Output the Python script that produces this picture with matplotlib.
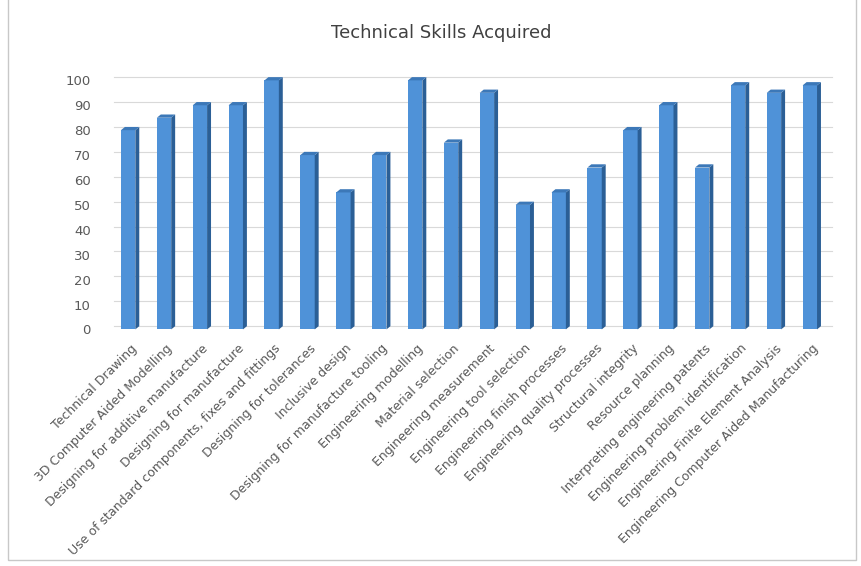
import numpy as np
import matplotlib
matplotlib.use("Agg")
import matplotlib.pyplot as plt
from matplotlib.patches import Polygon, Rectangle

skills = [
    "Technical Drawing",
    "3D Computer Aided Modelling",
    "Designing for additive manufacture",
    "Designing for manufacture",
    "Use of standard components, fixes and fittings",
    "Designing for tolerances",
    "Inclusive design",
    "Designing for manufacture tooling",
    "Engineering modelling",
    "Material selection",
    "Engineering measurement",
    "Engineering tool selection",
    "Engineering finish processes",
    "Engineering quality processes",
    "Structural integrity",
    "Resource planning",
    "Interpreting engineering patents",
    "Engineering problem identification",
    "Engineering Finite Element Analysis",
    "Engineering Computer Aided Manufacturing",
]
scores = [80, 85, 90, 90, 100, 70, 55, 70, 100, 75,
          95, 50, 55, 65, 80, 90, 65, 98, 95, 98]
yticks = list(range(0, 101, 10))

FRONT = "#4f92d8"
SIDE  = "#2b5f96"
TOP   = "#3c78b8"
TXT   = "#595959"

fig = plt.figure(figsize=(8.61, 5.66), dpi=100)
ax = fig.add_axes([0.128, 0.418, 0.838, 0.44])

x = np.arange(len(skills))
w = 0.40
dx, dy = 0.11, 1.3   # fake 3D depth in data units

for gv in yticks:
    ax.plot([-0.5 + dx, len(skills) - 0.5 + dx], [gv + dy, gv + dy],
            color="#d9d9d9", lw=0.8, zorder=0, clip_on=False)

ax.bar(x, scores, w, color=FRONT, edgecolor="none", zorder=2)
for xi, v in zip(x, scores):
    l, r = xi - w / 2, xi + w / 2
    ax.add_patch(Polygon([(r, 0), (r + dx, dy), (r + dx, v + dy), (r, v)],
                         closed=True, facecolor=SIDE, edgecolor="none",
                         zorder=2, clip_on=False))
    ax.add_patch(Polygon([(l, v), (l + dx, v + dy), (r + dx, v + dy), (r, v)],
                         closed=True, facecolor=TOP, edgecolor="none",
                         zorder=2, clip_on=False))

ax.set_xlim(-0.5, len(skills) - 0.5 + dx)
ax.set_ylim(0, 100)
ax.set_yticks(yticks)
ax.tick_params(axis="y", length=0, labelsize=9.5, labelcolor=TXT, pad=14)
ax.set_xticks(x + 0.05)
ax.set_xticklabels(skills, rotation=45, ha="right", rotation_mode="anchor",
                   fontsize=9, color=TXT)
ax.tick_params(axis="x", length=0, pad=9)
for s in ax.spines.values():
    s.set_visible(False)

fig.text(0.512, 0.942, "Technical Skills Acquired", ha="center", va="center",
         fontsize=13, color="#404040")

fig.add_artist(Rectangle((0.009, 0.01), 0.985, 1.2, transform=fig.transFigure,
                         fill=False, edgecolor="#c8c8c8", lw=1.0))

fig.savefig("out.png", dpi=100)
